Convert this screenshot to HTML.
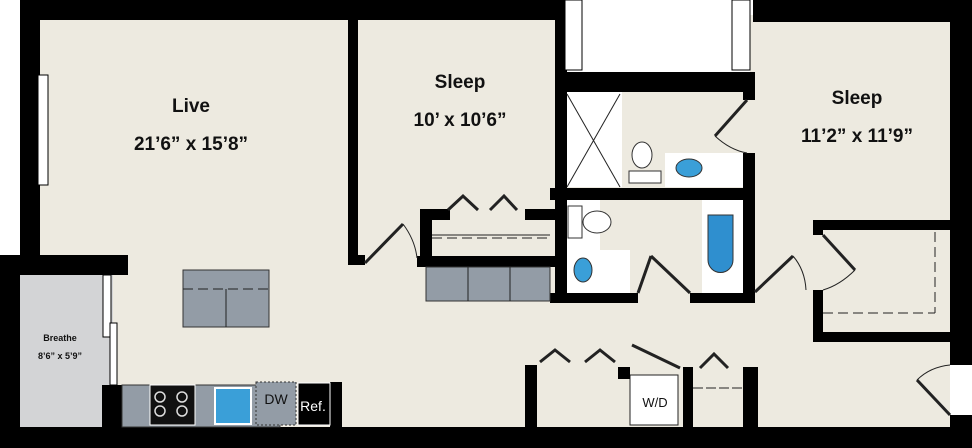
<!DOCTYPE html>
<html><head><style>body{margin:0;background:#fff}svg{display:block}
text{font-family:"Liberation Sans",sans-serif;font-weight:bold;fill:#111}</style></head><body>
<svg width="972" height="448" viewBox="0 0 972 448" xmlns="http://www.w3.org/2000/svg">
<!-- floor -->
<g fill="#edeae0">
<rect x="30" y="10" width="530" height="430"/>
<rect x="555" y="90" width="405" height="345"/>
<rect x="750" y="15" width="205" height="210"/>
</g>
<!-- breathe -->
<rect x="18" y="272" width="95" height="156" fill="#d3d4d6"/>
<!-- baths white -->
<g fill="#fff">
<rect x="565" y="92" width="57" height="95"/>
<rect x="565" y="200" width="35" height="93"/>
<rect x="600" y="250" width="30" height="43" fill="#fff"/>
<rect x="702" y="200" width="43" height="93"/>
<rect x="665" y="153" width="80" height="34"/>
<rect x="630" y="375" width="48" height="50" stroke="#222" stroke-width="1"/>
</g>
<!-- walls -->
<g fill="#000">
<rect x="20" y="0" width="340" height="20"/>
<rect x="20" y="0" width="20" height="275"/>
<rect x="0" y="255" width="128" height="20"/>
<rect x="0" y="255" width="20" height="193"/>
<rect x="0" y="427" width="972" height="21"/>
<rect x="348" y="0" width="10" height="265"/>
<rect x="348" y="255" width="17" height="10"/>
<rect x="348" y="0" width="217" height="20"/>
<rect x="555" y="0" width="12" height="303"/>
<rect x="555" y="72" width="198" height="20"/>
<rect x="550" y="188" width="205" height="12"/>
<rect x="743" y="72" width="12" height="28"/>
<rect x="743" y="153" width="12" height="150"/>
<rect x="550" y="293" width="88" height="10"/>
<rect x="690" y="293" width="65" height="10"/>
<rect x="753" y="0" width="219" height="22"/>
<rect x="950" y="0" width="22" height="365"/>
<rect x="950" y="415" width="22" height="33"/>
<rect x="813" y="220" width="137" height="10"/>
<rect x="813" y="220" width="10" height="15"/>
<rect x="813" y="290" width="10" height="52"/>
<rect x="813" y="332" width="159" height="10"/>
<rect x="420" y="209" width="12" height="58"/>
<rect x="420" y="209" width="30" height="11"/>
<rect x="525" y="209" width="30" height="11"/>
<rect x="417" y="256" width="138" height="11"/>
<rect x="102" y="385" width="20" height="45"/>
<rect x="330" y="382" width="12" height="48"/>
<rect x="525" y="365" width="12" height="70"/>
<rect x="683" y="367" width="10" height="65"/>
<rect x="743" y="367" width="15" height="65"/>
<rect x="618" y="367" width="12" height="12"/>
</g>
<!-- windows -->
<g fill="#fff" stroke="#000" stroke-width="1">
<rect x="38" y="75" width="10" height="110"/>
<rect x="565" y="0" width="17" height="70"/>
<rect x="732" y="0" width="18" height="70"/>
<rect x="103" y="275" width="8" height="62"/>
<rect x="110" y="323" width="7" height="62"/>
</g>
<rect x="583" y="0" width="147" height="72" fill="#fff"/>
<rect x="950" y="365" width="22" height="50" fill="#fff"/>
<!-- counters -->
<g fill="#939ca6" stroke="#333" stroke-width="1">
<rect x="426" y="267" width="124" height="34"/>
<rect x="183" y="270" width="86" height="57"/>
<rect x="122" y="385" width="158" height="42"/>
</g>
<g stroke="#222" stroke-width="1" fill="none">
<line x1="468" y1="267" x2="468" y2="301"/><line x1="510" y1="267" x2="510" y2="301"/>
<line x1="183" y1="289" x2="269" y2="289" stroke-dasharray="10,5"/>
<line x1="226" y1="289" x2="226" y2="327"/>
<line x1="432" y1="235" x2="550" y2="235"/><line x1="432" y1="238" x2="550" y2="238" stroke-dasharray="10,5"/>
<line x1="823" y1="313" x2="935" y2="313" stroke-dasharray="10,5"/>
<line x1="935" y1="232" x2="935" y2="313" stroke-dasharray="10,5"/>
<line x1="693" y1="388" x2="743" y2="388" stroke-dasharray="10,3"/>
<line x1="567" y1="94" x2="620" y2="187"/><line x1="620" y1="94" x2="567" y2="187"/>
<!-- doors -->
<line x1="365" y1="263" x2="403" y2="224" stroke-width="3"/><path d="M403 224 Q415 240 417 258"/>
<line x1="747" y1="100" x2="715" y2="136" stroke-width="3"/><path d="M715 136 Q730 150 747 153"/>
<line x1="638" y1="293" x2="651" y2="256" stroke-width="3"/><line x1="651" y1="256" x2="690" y2="293" stroke-width="3"/>
<line x1="755" y1="292" x2="793" y2="256" stroke-width="3"/><path d="M793 256 Q805 270 806 290"/>
<line x1="823" y1="235" x2="855" y2="270" stroke-width="3"/><path d="M855 270 Q840 285 823 290"/>
<line x1="950" y1="415" x2="917" y2="380" stroke-width="3"/><path d="M917 380 Q930 367 950 365"/>
<polyline points="448,210 463,196 478,210" stroke-width="3"/><polyline points="490,210 504,196 517,210" stroke-width="3"/>
<polyline points="540,362 555,350 570,362" stroke-width="3"/><polyline points="585,362 600,350 615,362" stroke-width="3"/>
<line x1="632" y1="345" x2="680" y2="368" stroke-width="3"/>
<polyline points="700,368 714,354 728,368" stroke-width="3"/>
</g>
<!-- fixtures -->
<g stroke="#333" stroke-width="1">
<ellipse cx="642" cy="155" rx="10" ry="13" fill="#fff"/><rect x="629" y="171" width="32" height="12" fill="#fff"/>
<ellipse cx="689" cy="168" rx="13" ry="9" fill="#3a9fd8"/>
<rect x="568" y="206" width="14" height="32" fill="#fff"/><ellipse cx="597" cy="222" rx="14" ry="11" fill="#fff"/>
<ellipse cx="583" cy="270" rx="9" ry="12" fill="#3a9fd8"/>
<path d="M708 215 h25 v45 a12.5 12.5 0 0 1 -25 0z" fill="#2f8fcf"/>
<rect x="150" y="385" width="45" height="40" fill="#111" stroke="#fff"/>
<rect x="215" y="388" width="36" height="36" fill="#3a9fd8" stroke="#fff" stroke-width="2"/>
<rect x="256" y="382" width="40" height="43" fill="#939ca6" stroke-dasharray="2,2"/>
<rect x="298" y="383" width="32" height="42" fill="#000" stroke="#fff"/>
</g>
<g fill="none" stroke="#ddd" stroke-width="1.5">
<circle cx="160" cy="397" r="5"/><circle cx="182" cy="397" r="5"/><circle cx="160" cy="411" r="5"/><circle cx="182" cy="411" r="5"/>
</g>
<text x="191" y="112" font-size="19" text-anchor="middle">Live</text>
<text x="191" y="150" font-size="19" text-anchor="middle">21’6” x 15’8”</text>
<text x="460" y="88" font-size="19" text-anchor="middle">Sleep</text>
<text x="460" y="126" font-size="19" text-anchor="middle">10’ x 10’6”</text>
<text x="857" y="104" font-size="19" text-anchor="middle">Sleep</text>
<text x="857" y="142" font-size="19" text-anchor="middle">11’2” x 11’9”</text>
<text x="60" y="341" font-size="9" text-anchor="middle">Breathe</text>
<text x="60" y="359" font-size="9" text-anchor="middle">8’6” x 5’9”</text>
<text x="276" y="404" font-size="14" font-weight="normal" text-anchor="middle" style="font-weight:normal">DW</text>
<text x="313" y="411" font-size="14" text-anchor="middle" style="fill:#fff;font-weight:normal">Ref.</text>
<text x="655" y="407" font-size="13" text-anchor="middle" style="font-weight:normal">W/D</text>
</svg>
</body></html>
